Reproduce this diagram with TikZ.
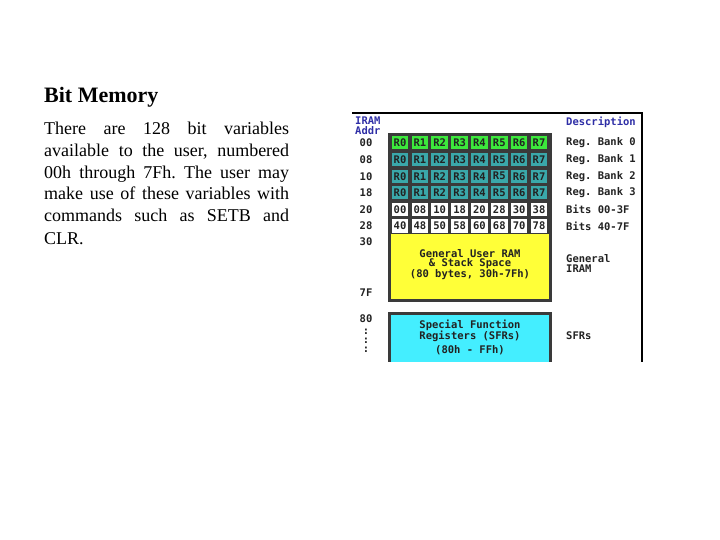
\documentclass[tikz,border=0pt]{standalone}
\usepackage{fontspec}
\setmainfont{Liberation Serif}
\newfontfamily\pixfont{DejaVu Sans Mono}
\definecolor{griddark}{HTML}{3A3A3A}
\definecolor{bankgreen}{HTML}{3CE83C}
\definecolor{bankteal}{HTML}{3AA8AA}
\definecolor{ramyellow}{HTML}{FFFF38}
\definecolor{sfrcyan}{HTML}{44EEFF}
\definecolor{headblue}{HTML}{2E2EA6}
\definecolor{pixtext}{HTML}{222222}
\tikzset{
  pix/.style={inner sep=0pt, font=\pixfont\bfseries\fontsize{10.5}{11}\selectfont, text=pixtext},
  cellbase/.style={pix, minimum width=16.5pt, minimum height=13pt},
  cellG/.style={cellbase, fill=bankgreen},
  cellT/.style={cellbase, fill=bankteal},
  cellW/.style={cellbase, fill=white},
  addr/.style={pix},
  desc/.style={pix, anchor=west},
  bluehead/.style={pix, text=headblue, anchor=west},
  bodyline/.style={anchor=base west, inner sep=0pt, font=\fontsize{18}{22}\selectfont}
}
\begin{document}
\frenchspacing
\begin{tikzpicture}[x=1pt,y=-1pt]
\useasboundingbox (0,0) rectangle (720,540);
% left text
\node[anchor=base west, inner sep=0pt] (title) at (44,103) {\fontsize{22}{26}\selectfont\bfseries Bit Memory};
\node[bodyline] (b1) at (44,135) {\makebox[245pt][s]{There are 128 bit variables}};
\node[bodyline] (b2) at (44,157) {\makebox[245pt][s]{available to the user, numbered}};
\node[bodyline] (b3) at (44,179) {\makebox[245pt][s]{00h through 7Fh. The user may}};
\node[bodyline] (b4) at (44,200) {\makebox[245pt][s]{make use of these variables with}};
\node[bodyline] (b5) at (44,222) {\makebox[245pt][s]{commands such as SETB and}};
\node[bodyline] (b6) at (44,244) {CLR.};
% frame
\coordinate (ftl) at (352,113);
\coordinate (ftr) at (642,113);
\coordinate (fbr) at (642,362);
\draw[line width=1.8pt] (ftl) -- (ftr) -- (fbr);
% headings
\node[bluehead] (h1) at (355,121) {IRAM};
\node[bluehead] (h2) at (355,131) {Addr};
\node[bluehead] (h3) at (566,122) {Description};
% grid background
\fill[griddark] (388,133) rectangle (552,302);
\fill[ramyellow] (391,234) rectangle (549,299);
\fill[griddark] (388,312) rectangle (552,362);
\fill[sfrcyan] (391,315) rectangle (549,362);
% cells
\foreach \lab [count=\i from 0] in {R0,R1,R2,R3,R4,R5,R6,R7}{
  \node[cellG] (r0c\i) at ({400+19.86*\i},143) {\lab};
  \node[cellT] (r1c\i) at ({400+19.86*\i},159.6) {\lab};
  \node[cellT] (r2c\i) at ({400+19.86*\i},176.2) {\lab};
  \node[cellT] (r3c\i) at ({400+19.86*\i},192.8) {\lab};
}
\foreach \lab [count=\i from 0] in {00,08,10,18,20,28,30,38}{
  \node[cellW] (r4c\i) at ({400+19.86*\i},209.4) {\lab};
}
\foreach \lab [count=\i from 0] in {40,48,50,58,60,68,70,78}{
  \node[cellW] (r5c\i) at ({400+19.86*\i},226) {\lab};
}
% address labels
\node[addr] (a00) at (366,143) {00};
\node[addr] (a08) at (366,159.6) {08};
\node[addr] (a10) at (366,176.2) {10};
\node[addr] (a18) at (366,192.8) {18};
\node[addr] (a20) at (366,209.4) {20};
\node[addr] (a28) at (366,226) {28};
\node[addr] (a30) at (366,242) {30};
\node[addr] (a7F) at (366,293) {7F};
\node[addr] (a80) at (366,319) {80};
\node[addr] (d1) at (366,331.5) {:};
\node[addr] (d2) at (366,340.5) {:};
\node[addr] (d3) at (366,349.5) {:};
% descriptions
\node[desc] (e0) at (566,143) {Reg. Bank 0};
\node[desc] (e1) at (566,159.6) {Reg. Bank 1};
\node[desc] (e2) at (566,176.2) {Reg. Bank 2};
\node[desc] (e3) at (566,192.8) {Reg. Bank 3};
\node[desc] (e4) at (566,209.4) {Bits 00-3F};
\node[desc] (e5) at (566,226) {Bits 40-7F};
\node[desc] (e6) at (566,258.5) {General};
\node[desc] (e7) at (566,268.5) {IRAM};
\node[desc] (e8) at (566,336) {SFRs};
% block texts
\node[pix] (y1) at (470,253.5) {General User RAM};
\node[pix] (y2) at (470,264) {\& Stack Space};
\node[pix] (y3) at (470,274.5) {(80 bytes, 30h-7Fh)};
\node[pix] (s1) at (470,325) {Special Function};
\node[pix] (s2) at (470,336) {Registers (SFRs)};
\node[pix] (s3) at (470,350) {(80h - FFh)};
\end{tikzpicture}
\end{document}
